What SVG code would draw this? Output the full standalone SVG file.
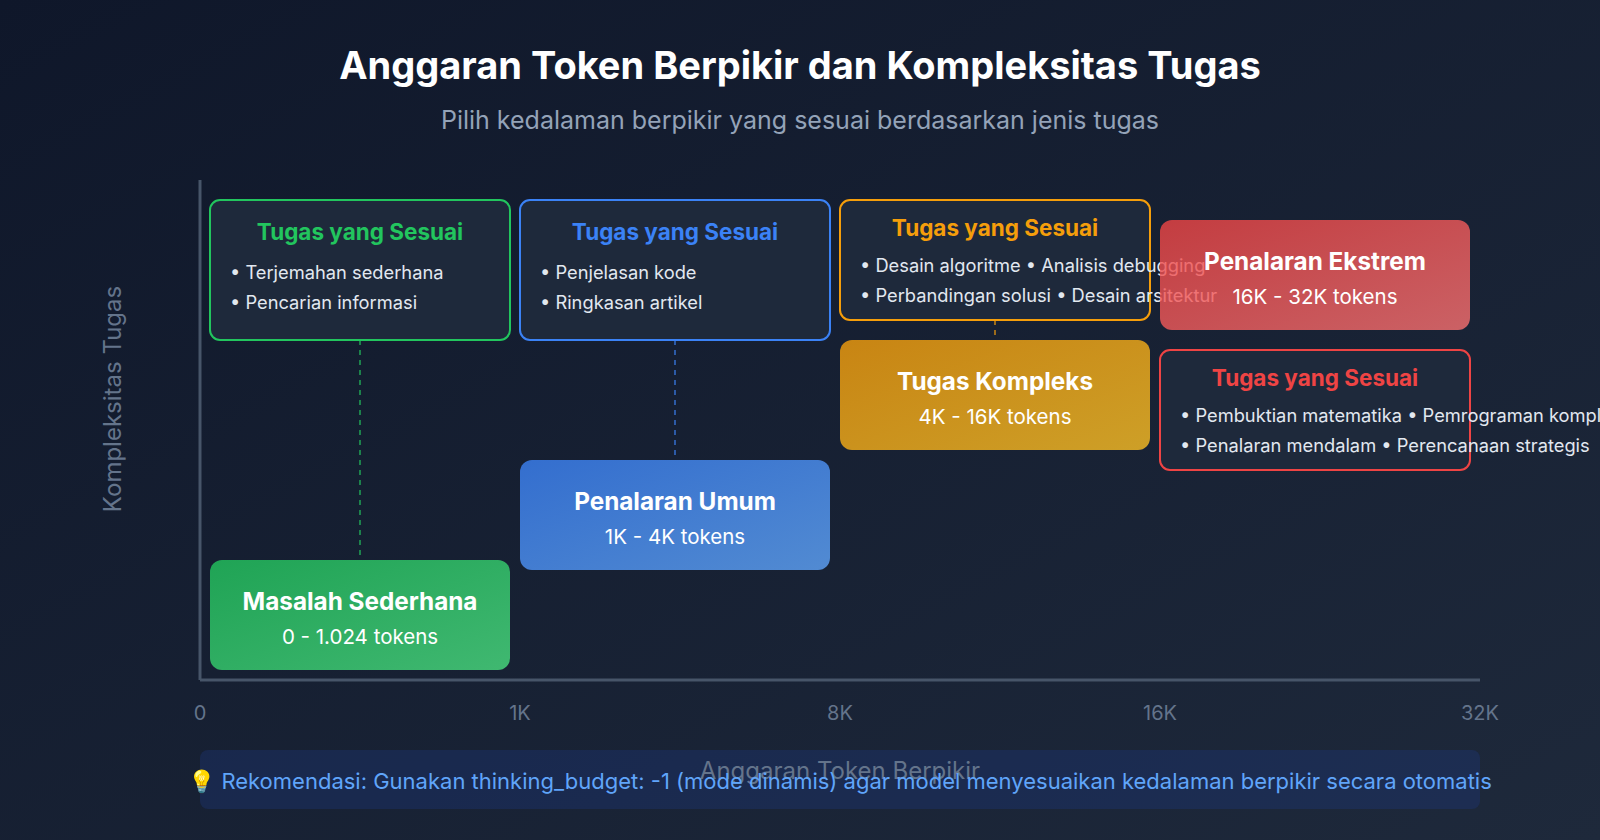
<svg xmlns="http://www.w3.org/2000/svg" width="1600" height="840" viewBox="0 0 1600 840">
<defs>
<linearGradient id="bg" x1="0" y1="0" x2="1" y2="1">
<stop offset="0" stop-color="#0f172a"/>
<stop offset="1" stop-color="#1e293b"/>
</linearGradient>
<linearGradient id="gGreen" x1="0" y1="0" x2="1" y2="1">
<stop offset="0" stop-color="#22c55e"/>
<stop offset="1" stop-color="#4ade80"/>
</linearGradient>
<linearGradient id="gBlue" x1="0" y1="0" x2="1" y2="1">
<stop offset="0" stop-color="#3b82f6"/>
<stop offset="1" stop-color="#60a5fa"/>
</linearGradient>
<linearGradient id="gOrange" x1="0" y1="0" x2="1" y2="1">
<stop offset="0" stop-color="#f59e0b"/>
<stop offset="1" stop-color="#fbbf24"/>
</linearGradient>
<linearGradient id="gRed" x1="0" y1="0" x2="1" y2="1">
<stop offset="0" stop-color="#ef4444"/>
<stop offset="1" stop-color="#f87171"/>
</linearGradient>
<style>
text { font-family: Inter, "Liberation Sans", sans-serif; }
.title { font-size: 38px; font-weight: 700; fill: #ffffff; text-anchor: middle; }
.subtitle { font-size: 25px; fill: #94a3b8; text-anchor: middle; }
.axis { stroke: #475569; stroke-width: 3; fill: none; }
.tick { font-size: 20px; fill: #64748b; text-anchor: middle; }
.axislabel { font-size: 24px; fill: #64748b; text-anchor: middle; }
.node { opacity: 0.8; }
.ntitle { font-size: 24.3px; font-weight: 700; fill: #ffffff; text-anchor: middle; }
.nsub { font-size: 20.5px; fill: #ffffff; text-anchor: middle; }
.info { fill: #1e293b; stroke-width: 2; }
.ititle { font-size: 22.5px; font-weight: 700; text-anchor: middle; }
.bullet { font-size: 18.3px; fill: #e2e8f0; }
.dash { stroke-width: 2; stroke-dasharray: 5 5; opacity: 0.6; }
.rec { fill: #1e3a8a; opacity: 0.3; }
.rectext { font-size: 22px; fill: #60a5fa; text-anchor: middle; }
</style>
</defs>
<rect x="0" y="0" width="1600" height="840" fill="url(#bg)"/>

<text class="title" x="800" y="79">Anggaran Token Berpikir dan Kompleksitas Tugas</text>
<text class="subtitle" x="800" y="129">Pilih kedalaman berpikir yang sesuai berdasarkan jenis tugas</text>

<g id="axes">
<line class="axis" x1="200" y1="180" x2="200" y2="680"/>
<line class="axis" x1="200" y1="680" x2="1480" y2="680"/>
<text class="tick" x="200" y="720">0</text>
<text class="tick" x="520" y="720">1K</text>
<text class="tick" x="840" y="720">8K</text>
<text class="tick" x="1160" y="720">16K</text>
<text class="tick" x="1480" y="720">32K</text>
<text class="axislabel" transform="translate(121,399) rotate(-90)">Kompleksitas Tugas</text>
</g>

<g id="connectors">
<line class="dash" x1="360" y1="340" x2="360" y2="560" stroke="#22c55e"/>
<line class="dash" x1="675" y1="340" x2="675" y2="460" stroke="#3b82f6"/>
<line class="dash" x1="995" y1="320" x2="995" y2="340" stroke="#f59e0b"/>
</g>

<g id="info-simple">
<rect class="info" x="210" y="200" width="300" height="140" rx="10" stroke="#22c55e"/>
<text class="ititle" x="360" y="240" fill="#22c55e">Tugas yang Sesuai</text>
<text class="bullet" x="230" y="279">• Terjemahan sederhana</text>
<text class="bullet" x="230" y="309">• Pencarian informasi</text>
</g>

<g id="info-general">
<rect class="info" x="520" y="200" width="310" height="140" rx="10" stroke="#3b82f6"/>
<text class="ititle" x="675" y="240" fill="#3b82f6">Tugas yang Sesuai</text>
<text class="bullet" x="540" y="279">• Penjelasan kode</text>
<text class="bullet" x="540" y="309">• Ringkasan artikel</text>
</g>

<g id="info-complex">
<rect class="info" x="840" y="200" width="310" height="120" rx="10" stroke="#f59e0b"/>
<text class="ititle" x="995" y="236" fill="#f59e0b">Tugas yang Sesuai</text>
<text class="bullet" x="860" y="272">• Desain algoritme • Analisis debugging</text>
<text class="bullet" x="860" y="302">• Perbandingan solusi • Desain arsitektur</text>
</g>

<g id="info-extreme">
<rect class="info" x="1160" y="350" width="310" height="120" rx="10" stroke="#ef4444"/>
<text class="ititle" x="1315" y="386" fill="#ef4444">Tugas yang Sesuai</text>
<text class="bullet" x="1180" y="422">• Pembuktian matematika • Pemrograman kompleks</text>
<text class="bullet" x="1180" y="452">• Penalaran mendalam • Perencanaan strategis</text>
</g>

<g id="node-simple">
<rect class="node" x="210" y="560" width="300" height="110" rx="12" fill="url(#gGreen)"/>
<text class="ntitle" x="360" y="610">Masalah Sederhana</text>
<text class="nsub" x="360" y="644">0 - 1.024 tokens</text>
</g>

<g id="node-general">
<rect class="node" x="520" y="460" width="310" height="110" rx="12" fill="url(#gBlue)"/>
<text class="ntitle" x="675" y="510">Penalaran Umum</text>
<text class="nsub" x="675" y="544">1K - 4K tokens</text>
</g>

<g id="node-complex">
<rect class="node" x="840" y="340" width="310" height="110" rx="12" fill="url(#gOrange)"/>
<text class="ntitle" x="995" y="390">Tugas Kompleks</text>
<text class="nsub" x="995" y="424">4K - 16K tokens</text>
</g>

<g id="node-extreme">
<rect class="node" x="1160" y="220" width="310" height="110" rx="12" fill="url(#gRed)"/>
<text class="ntitle" x="1315" y="270">Penalaran Ekstrem</text>
<text class="nsub" x="1315" y="304">16K - 32K tokens</text>
</g>

<g id="recommendation">
<rect class="rec" x="200" y="750" width="1280" height="59" rx="8"/>
<text class="axislabel" x="840" y="779">Anggaran Token Berpikir</text>
<text class="rectext" x="840" y="789">💡 Rekomendasi: Gunakan thinking_budget: -1 (mode dinamis) agar model menyesuaikan kedalaman berpikir secara otomatis</text>
</g>
</svg>
